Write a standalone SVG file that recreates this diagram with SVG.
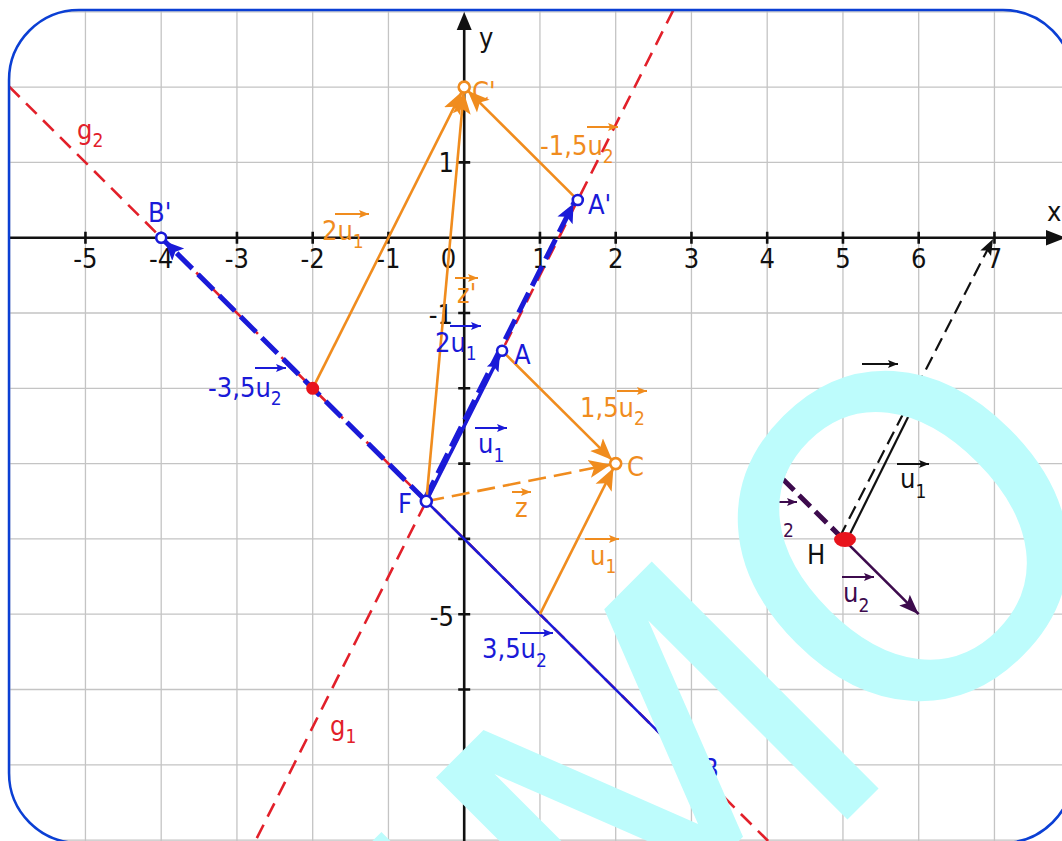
<svg xmlns="http://www.w3.org/2000/svg" width="1062" height="841" viewBox="0 0 1062 841">
<style>
text{font-family:"DejaVu Sans Condensed","DejaVu Sans",sans-serif;font-stretch:condensed;font-size:27px}
.sub{font-size:19px}
.tick{font-size:26px;fill:#111}
.or{fill:#f08c1e}.bl{fill:#1a1ad8}.rd{fill:#e2202a}.pu{fill:#3d0b4d}.bk{fill:#111}
.grid{stroke:#c4c4c4;stroke-width:1.3;fill:none}
.axis{stroke:#111;stroke-width:2.6;fill:none}
.lo{stroke:#f08c1e;stroke-width:2.6;fill:none}
.lb{stroke:#1a1ad8;fill:none}
.lr{stroke:#e2202a;stroke-width:2.6;fill:none;stroke-dasharray:15 9}
.la{stroke-width:2;fill:none}
.pt{fill:#fff;stroke-width:2.6}
.wm{font-family:"DejaVu Sans",sans-serif;font-stretch:normal;fill:#bdfcfc}
.wm1{font-size:440px}
.wm2{font-size:448px}
</style>
<defs>
<clipPath id="frameClip"><rect x="9" y="10" width="1064" height="833" rx="70"/></clipPath>
<marker id="ahO" viewBox="0 -11 28 22" refX="27" refY="0" markerWidth="28" markerHeight="22" markerUnits="userSpaceOnUse" orient="auto"><path d="M0,-9 L22,0 L0,9 L5,0 Z" fill="#f08c1e"/></marker>
<marker id="ahB" viewBox="0 -10 26 20" refX="24" refY="0" markerWidth="26" markerHeight="20" markerUnits="userSpaceOnUse" orient="auto"><path d="M0,-8.5 L19,0 L0,8.5 L4,0 Z" fill="#1a1ad8"/></marker>
<marker id="ahBs" viewBox="0 -8 22 16" refX="21" refY="0" markerWidth="22" markerHeight="16" markerUnits="userSpaceOnUse" orient="auto"><path d="M0,-6.5 L16,0 L0,6.5 L3,0 Z" fill="#1a1ad8"/></marker>
<marker id="ahK" viewBox="0 -8 18 16" refX="16" refY="0" markerWidth="18" markerHeight="16" markerUnits="userSpaceOnUse" orient="auto"><path d="M0,-6 L16,0 L0,6 L3,0 Z" fill="#111"/></marker>
<marker id="ahP" viewBox="0 -9 22 18" refX="20" refY="0" markerWidth="22" markerHeight="18" markerUnits="userSpaceOnUse" orient="auto"><path d="M0,-7.5 L20,0 L0,7.5 L4,0 Z" fill="#3d0b4d"/></marker>
<marker id="smO" viewBox="0 -5 11 10" refX="10" refY="0" markerWidth="11" markerHeight="10" markerUnits="userSpaceOnUse" orient="auto"><path d="M0,-4 L10,0 L0,4 L2,0 Z" fill="#f08c1e"/></marker>
<marker id="smB" viewBox="0 -5 11 10" refX="10" refY="0" markerWidth="11" markerHeight="10" markerUnits="userSpaceOnUse" orient="auto"><path d="M0,-4 L10,0 L0,4 L2,0 Z" fill="#1a1ad8"/></marker>
<marker id="smK" viewBox="0 -5 11 10" refX="10" refY="0" markerWidth="11" markerHeight="10" markerUnits="userSpaceOnUse" orient="auto"><path d="M0,-4 L10,0 L0,4 L2,0 Z" fill="#111"/></marker>
<marker id="smP" viewBox="0 -5 11 10" refX="10" refY="0" markerWidth="11" markerHeight="10" markerUnits="userSpaceOnUse" orient="auto"><path d="M0,-4 L10,0 L0,4 L2,0 Z" fill="#3d0b4d"/></marker>
</defs>
<rect x="0" y="0" width="1062" height="841" fill="#fff"/>
<g id="grid" clip-path="url(#frameClip)">
<path class="grid" d="M9.7 10V843M85.45 10V843M161.2 10V843M236.95 10V843M312.7 10V843M388.45 10V843M464.2 10V843M539.95 10V843M615.7 10V843M691.45 10V843M767.2 10V843M842.95 10V843M918.7 10V843M994.45 10V843M9 11.8H1073M9 87.1H1073M9 162.4H1073M9 237.7H1073M9 313H1073M9 388.3H1073M9 463.6H1073M9 538.9H1073M9 614.2H1073M9 689.5H1073M9 764.8H1073M9 840.1H1073"/>
</g>
<g id="axes">
<path class="axis" d="M9 237.7H1050M464.2 843V26"/>
<path class="axis" d="M85.45 231.7V243.7M161.2 231.7V243.7M236.95 231.7V243.7M312.7 231.7V243.7M388.45 231.7V243.7M539.95 231.7V243.7M615.7 231.7V243.7M691.45 231.7V243.7M767.2 231.7V243.7M842.95 231.7V243.7M918.7 231.7V243.7M994.45 231.7V243.7M458.2 87.1H470.2M458.2 162.4H470.2M458.2 313H470.2M458.2 388.3H470.2M458.2 463.6H470.2M458.2 538.9H470.2M458.2 614.2H470.2M458.2 689.5H470.2M458.2 764.8H470.2"/>
<path d="M1066 237.7L1046 230L1046 245.4Z" fill="#111"/>
<path d="M464.2 12L456.7 30L471.7 30Z" fill="#111"/>
<g class="tick" text-anchor="middle">
<text x="85.45" y="268">-5</text><text x="161.2" y="268">-4</text><text x="236.95" y="268">-3</text><text x="312.7" y="268">-2</text><text x="388.45" y="268">-1</text><text x="448.5" y="268">0</text><text x="539.95" y="268">1</text><text x="615.7" y="268">2</text><text x="691.45" y="268">3</text><text x="767.2" y="268">4</text><text x="842.95" y="268">5</text><text x="918.7" y="268">6</text><text x="994.45" y="268">7</text>
</g>
<g class="tick" text-anchor="end">
<text x="454" y="172">1</text><text x="453" y="324">-1</text><text x="454" y="626">-5</text>
</g>
<text class="bk" x="1047" y="221">x</text>
<text class="bk" x="479" y="47">y</text>
</g>
<g id="connectors" clip-path="url(#frameClip)">
<path id="g1" class="lr" d="M673.4 10L255.4 841"/>
<path id="g2" class="lr" d="M9 86.4L768.1 841"/>
<path class="lb" stroke-width="2.6" d="M426.3 501.3L691.5 764.8" marker-end="url(#ahBs)"/>
<path class="lb" stroke-width="5" stroke-dasharray="22 8" d="M426.3 501.3L161.2 237.7" marker-end="url(#ahB)"/>
<path class="lb" stroke-width="5" stroke-dasharray="22 8" d="M424.3 500.2L575.8 199" marker-end="url(#ahB)"/>
<path class="lb" stroke-width="3.5" d="M426.3 501.3L502.1 350.7" marker-end="url(#ahBs)"/>
<path class="lo" d="M502.1 350.7L615.7 463.6" marker-end="url(#ahO)"/>
<path class="lo" d="M540 614.2L615.7 463.6" marker-end="url(#ahO)"/>
<path class="lo" stroke-dasharray="18 8" d="M426.3 501.3L615.7 463.6" marker-end="url(#ahO)"/>
<path class="lo" d="M577.8 200.05L464.2 87.1" marker-end="url(#ahO)"/>
<path class="lo" d="M312.7 388.3L464.2 87.1" marker-end="url(#ahO)"/>
<path class="lo" stroke-width="2" d="M426.3 501.3L464.2 87.1" marker-end="url(#ahO)"/>
<path stroke="#111" stroke-width="2.2" fill="none" stroke-dasharray="14 7" d="M839.5 537.5L993 239" marker-end="url(#ahK)"/>
<path stroke="#111" stroke-width="2.2" fill="none" d="M846.5 541L921.5 390" marker-end="url(#ahK)"/>
<path stroke="#3d0b4d" stroke-width="2.6" fill="none" d="M843 538.9L918.7 614.2" marker-end="url(#ahP)"/>
<path stroke="#3d0b4d" stroke-width="5" fill="none" stroke-dasharray="16 7" d="M843 538.9L767.2 463.6" marker-end="url(#ahP)"/>
</g>
<g id="node-F"><circle class="pt" stroke="#1a1ad8" cx="426.3" cy="501.3" r="5.5"/><text class="bl" x="398" y="513">F</text></g>
<g id="node-A"><circle class="pt" stroke="#1a1ad8" cx="502.1" cy="350.7" r="5"/><text class="bl" x="514" y="364">A</text></g>
<g id="node-A2"><circle class="pt" stroke="#1a1ad8" cx="577.8" cy="200.05" r="5"/><text class="bl" x="588" y="214">A'</text></g>
<g id="node-B2"><circle class="pt" stroke="#1a1ad8" cx="161.2" cy="237.7" r="5"/><text class="bl" x="148" y="222">B'</text></g>
<g id="node-B"><text class="bl" x="702" y="778">B</text></g>
<g id="node-C"><circle class="pt" stroke="#f08c1e" cx="615.7" cy="463.6" r="5.5"/><text class="or" x="627" y="476">C</text></g>
<g id="node-C2"><circle class="pt" stroke="#f08c1e" cx="464.2" cy="87.1" r="5.5"/><text class="or" x="472" y="101">C'</text></g>
<g id="node-R"><circle cx="312.7" cy="388.3" r="6.5" fill="#e8141c"/></g>
<g id="node-H"><ellipse cx="845" cy="539.5" rx="11" ry="7.5" fill="#e8141c"/><text class="bk" x="807" y="564">H</text></g>
<g id="labels">
<text class="rd" x="77" y="139">g<tspan class="sub" dy="8">2</tspan></text>
<text class="rd" x="330" y="735">g<tspan class="sub" dy="8">1</tspan></text>
<text class="or" x="322" y="240">2u<tspan class="sub" dy="8">1</tspan></text>
<path stroke="#f08c1e" class="la" d="M335 214H369" marker-end="url(#smO)"/>
<text class="or" x="540" y="155">-1,5u<tspan class="sub" dy="8">2</tspan></text>
<path stroke="#f08c1e" class="la" d="M587 127H618" marker-end="url(#smO)"/>
<text class="or" x="457" y="303">z'</text>
<path stroke="#f08c1e" class="la" d="M455 278H478" marker-end="url(#smO)"/>
<text class="bl" x="435" y="352">2u<tspan class="sub" dy="8">1</tspan></text>
<path stroke="#1a1ad8" class="la" d="M450 326H481" marker-end="url(#smB)"/>
<text class="bl" x="208" y="397">-3,5u<tspan class="sub" dy="8">2</tspan></text>
<path stroke="#1a1ad8" class="la" d="M255 368H286" marker-end="url(#smB)"/>
<text class="bl" x="478" y="453">u<tspan class="sub" dy="9">1</tspan></text>
<path stroke="#1a1ad8" class="la" d="M475 428H507" marker-end="url(#smB)"/>
<text class="or" x="580" y="417">1,5u<tspan class="sub" dy="8">2</tspan></text>
<path stroke="#f08c1e" class="la" d="M617 391H647" marker-end="url(#smO)"/>
<text class="or" x="515" y="517">z</text>
<path stroke="#f08c1e" class="la" d="M512 492H531" marker-end="url(#smO)"/>
<text class="or" x="590" y="565">u<tspan class="sub" dy="8">1</tspan></text>
<path stroke="#f08c1e" class="la" d="M585 539H619" marker-end="url(#smO)"/>
<text class="bl" x="482" y="658">3,5u<tspan class="sub" dy="9">2</tspan></text>
<path stroke="#1a1ad8" class="la" d="M520 633H553" marker-end="url(#smB)"/>
<text class="bk" x="900" y="488">u<tspan class="sub" dy="10">1</tspan></text>
<path stroke="#111" class="la" d="M897 464H929" marker-end="url(#smK)"/>
<text class="pu" x="843" y="602">u<tspan class="sub" dy="10">2</tspan></text>
<path stroke="#3d0b4d" class="la" d="M842 577H874" marker-end="url(#smP)"/>
<text class="bk" x="862" y="393">u</text>
<path stroke="#111" class="la" d="M862 364H898" marker-end="url(#smK)"/>
<text class="pu sub" x="783" y="537">2</text>
<path stroke="#3d0b4d" class="la" d="M770 502H797" marker-end="url(#smP)"/>
</g>
<g id="watermark">
<text class="wm wm1" x="-617" y="0" transform="translate(631,1036) rotate(-45)">DE</text>
<text class="wm wm1" x="0" y="0" transform="translate(631,1036) rotate(-45) scale(1.04,1)">M</text>
<text class="wm wm2" x="0" y="163" text-anchor="middle" transform="translate(903,536) rotate(-45)">O</text>
</g>
<rect id="frame" x="9" y="10" width="1064" height="833" rx="70" fill="none" stroke="#0b3fd4" stroke-width="2.5"/>
</svg>
